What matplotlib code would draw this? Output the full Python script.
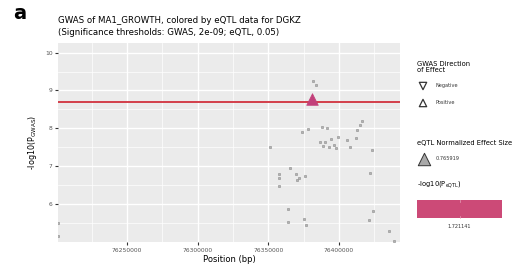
import matplotlib.pyplot as plt
from matplotlib.patches import Rectangle
import math

# SNP positions (bp) and -log10(P_GWAS)
pos = [76381600, 76383700, 76374050, 76377800, 76388200, 76391500, 76416000,
       76414600, 76412500, 76399050, 76412000, 76394300, 76386800, 76390300,
       76405650, 76388800, 76392600, 76396200, 76398100, 76408000, 76350950,
       76423100, 76365100, 76357550, 76357550, 76369300, 76371450, 76370300,
       76375900, 76357300, 76421700, 76364150, 76363900, 76375200, 76376900,
       76424300, 76421200, 76435400, 76439000, 76201300, 76201300]
logp = [9.25, 9.14, 7.91, 7.98, 8.04, 8.00, 8.19,
        8.09, 7.96, 7.78, 7.75, 7.72, 7.65, 7.65,
        7.70, 7.54, 7.52, 7.56, 7.49, 7.50, 7.52,
        7.42, 6.95, 6.80, 6.69, 6.80, 6.70, 6.64,
        6.74, 6.47, 6.82, 5.88, 5.54, 5.61, 5.44,
        5.82, 5.57, 5.29, 5.02, 5.50, 5.17]

# eQTL lead SNP
lead_pos = [76380900]
lead_logp = [8.78]

gwas_thresh = 2e-09
xticks = [76250000, 76300000, 76350000, 76400000]
yticks = [6, 7, 8, 9, 10]

fig = plt.figure(figsize=(5.18, 2.66), dpi=100)
ax = fig.add_axes([0.112, 0.090, 0.660, 0.748])
ax.set_facecolor('#ebebeb')
for s in ax.spines.values():
    s.set_visible(False)

ax.set_xlim(76201300, 76443000)
ax.set_ylim(5.0, 10.25)
ax.set_xticks(xticks)
ax.set_xticks([76225000, 76275000, 76325000, 76375000, 76425000], minor=True)
ax.set_yticks(yticks)
ax.set_yticks([5.5, 6.5, 7.5, 8.5, 9.5], minor=True)
ax.set_xticklabels([str(t) for t in xticks])
ax.grid(True, which='major', color='white', lw=1.0)
ax.grid(True, which='minor', color='white', lw=0.5)
ax.set_axisbelow(True)
ax.tick_params(which='major', labelsize=4.3, length=2, width=0.8, colors='#333333',
               labelcolor='#555555', pad=2)
ax.tick_params(which='minor', length=0)

ax.axhline(-math.log10(gwas_thresh), color='#d33f4a', lw=1.4, zorder=2)

ax.scatter(pos, logp, marker='s', s=3, facecolor='#b3b3b3', edgecolor='#8a8a8a',
           linewidths=0.4, zorder=3, clip_on=True)
ax.scatter(lead_pos, lead_logp, marker='^', s=70, facecolor='#c2407a',
           edgecolor='#c2407a', linewidths=0.5, zorder=4)

ax.set_xlabel('Position (bp)', fontsize=6, labelpad=2)
ax.set_ylabel('-log10(P$_{\\rm GWAS}$)', fontsize=5.8, labelpad=4)

fig.text(0.025, 0.93, 'a', fontsize=14, fontweight='bold')
fig.text(0.112, 0.915, 'GWAS of MA1_GROWTH, colored by eQTL data for DGKZ', fontsize=6.2)
fig.text(0.112, 0.870, '(Significance thresholds: GWAS, 2e-09; eQTL, 0.05)', fontsize=6.2)

# legends drawn in pixel coordinates
W, H = 518, 266
lax = fig.add_axes([0, 0, 1, 1], facecolor='none')
lax.set_xlim(0, W)
lax.set_ylim(H, 0)
lax.axis('off')

lax.text(417, 67, 'GWAS Direction\nof Effect', fontsize=4.9, va='center', linespacing=1.0)
lax.scatter([423], [86], marker='v', s=28, facecolor='none', edgecolor='#333333', linewidths=0.9)
lax.scatter([423], [103], marker='^', s=28, facecolor='none', edgecolor='#333333', linewidths=0.9)
lax.text(436, 86, 'Negative', fontsize=3.6, va='center', color='#333333')
lax.text(436, 103, 'Positive', fontsize=3.6, va='center', color='#333333')

lax.text(417, 143, 'eQTL Normalized Effect Size', fontsize=4.9, va='center')
lax.scatter([424], [159], marker='^', s=80, facecolor='#a9a9a9', edgecolor='#333333', linewidths=0.7)
lax.text(436, 159, '0.765919', fontsize=3.6, va='center', color='#333333')

lax.text(417, 185, '-log10(P$_{\\rm eQTL}$)', fontsize=4.9, va='center')
lax.add_patch(Rectangle((417, 200), 85, 18, facecolor='#cc4a77', edgecolor='none'))
lax.plot([459.5, 459.5], [200, 202], color='#e8a0b8', lw=0.5)
lax.plot([459.5, 459.5], [216, 218], color='#e8a0b8', lw=0.5)
lax.text(459.5, 226, '1.721141', fontsize=3.6, ha='center', va='center', color='#333333')

fig.savefig('out.png', dpi=100)
